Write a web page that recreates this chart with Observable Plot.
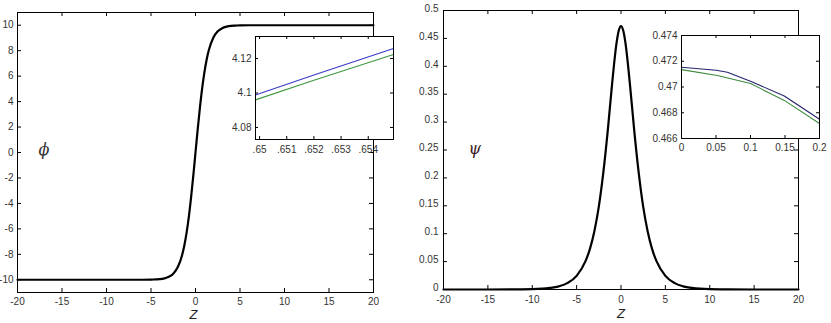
<!DOCTYPE html>
<html><head><meta charset="utf-8">
<script src="https://cdn.jsdelivr.net/npm/d3@7"></script>
<script src="https://cdn.jsdelivr.net/npm/@observablehq/plot@0.6"></script>
<style>
body{margin:0;background:#fff;}
#wrap{position:relative;width:831px;height:323px;overflow:hidden;background:#fff;}
#wrap svg{position:absolute;background:transparent;overflow:visible;}
</style></head><body><div id="wrap"></div>
<script>
// ---- Left panel: phi(z) ----
const zPhi = [-20,-8,-6,-5,-4.5,-4,-3.5,-3,-2.5,-2,-1.5,-1.25,-1,-0.75,-0.5,-0.25,0,0.25,0.5,0.75,1,1.25,1.5,2,2.5,3,3.5,4,4.5,5,6,8,20];
const phiValues = [-10,-10,-10,-9.99,-9.97,-9.95,-9.89,-9.77,-9.52,-9.02,-8.05,-7.29,-6.30,-5.05,-3.54,-1.83,0,1.83,3.54,5.05,6.30,7.29,8.05,9.02,9.52,9.77,9.89,9.95,9.97,9.99,10,10,10];
const phiXTicks = [-20,-15,-10,-5,0,5,10,15,20];
const phiYTicks = [-10,-8,-6,-4,-2,0,2,4,6,8,10];
// inset of left panel
const phiInsetZ = [0.64985, 0.652, 0.65493];
const phiInsetBlue = [4.0988, 4.1104, 4.1258];
const phiInsetGreen = [4.0960, 4.1074, 4.1223];
const phiInsetXTicks = [0.65, 0.651, 0.652, 0.653, 0.654];
const phiInsetYTicks = [4.08, 4.1, 4.12];

// ---- Right panel: psi(z) ----
const zPsi = [-20,-15,-12,-10,-8,-7,-6,-5,-4,-3.5,-3,-2.5,-2,-1.5,-1,-0.5,-0.25,0,0.25,0.5,1,1.5,2,2.5,3,3.5,4,5,6,7,8,10,12,15,20];
const psiValues = [0,0,0.0002,0.0006,0.0028,0.0057,0.0118,0.0245,0.0508,0.0728,0.1044,0.1484,0.2085,0.2835,0.369,0.442,0.464,0.472,0.464,0.442,0.369,0.2835,0.2085,0.1484,0.1044,0.0728,0.0508,0.0245,0.0118,0.0057,0.0028,0.0006,0.0002,0,0];
const psiXTicks = [-20,-15,-10,-5,0,5,10,15,20];
const psiYTicks = [0,0.05,0.1,0.15,0.2,0.25,0.3,0.35,0.4,0.45,0.5];
// inset of right panel
const psiInsetZBlue = [0, 0.05, 0.0665, 0.1, 0.149, 0.2];
const psiInsetBlue = [0.47153, 0.4713, 0.47115, 0.47045, 0.4693, 0.4675];
const psiInsetZGreen = [0, 0.052, 0.1, 0.149, 0.2];
const psiInsetGreen = [0.47135, 0.47089, 0.47027, 0.46896, 0.46716];
const psiInsetXTicks = [0, 0.05, 0.1, 0.15, 0.2];
const psiInsetYTicks = [0.466, 0.468, 0.47, 0.472, 0.474];

const FONT = "'Liberation Sans Narrow','Liberation Sans',Arial,sans-serif";
const wrap = document.getElementById("wrap");

function rows(xs, ys) { return xs.map((x, i) => ({x, y: ys[i]})); }

function panel(o) {
  const fw = o.width - o.ml - o.mr, fh = o.height - o.mt - o.mb;
  const tl = o.tickLen;
  const marks = [];
  if (o.fillWhite) marks.push(Plot.frame({fill: "white", stroke: null}));
  for (const s of o.series) {
    marks.push(Plot.line(s.data, {x: "x", y: "y", stroke: s.stroke, strokeWidth: s.width, curve: s.curve || "linear"}));
  }
  marks.push(
    Plot.ruleX(o.xTicks, {x: d => d, insetTop: fh - tl, stroke: "#000"}),
    Plot.ruleX(o.xTicks, {x: d => d, insetBottom: fh - tl, stroke: "#000"}),
    Plot.ruleY(o.yTicks, {y: d => d, insetRight: fw - tl, stroke: "#000"}),
    Plot.ruleY(o.yTicks, {y: d => d, insetLeft: fw - tl, stroke: "#000"}),
    Plot.frame({stroke: "#000", strokeWidth: 1}),
    Plot.axisX({ticks: o.xTicks, tickSize: 0, tickPadding: o.xPad, tickFormat: o.xFormat, label: null, fill: "#333", fontSize: 10}),
    Plot.axisY({ticks: o.yTicks, tickSize: 0, tickPadding: o.yPad, tickFormat: o.yFormat, label: null, fill: "#333", fontSize: 10, dy: o.yDy || 0})
  );
  if (o.extra) marks.push(...o.extra);
  const svg = Plot.plot({
    width: o.width, height: o.height,
    marginLeft: o.ml, marginRight: o.mr, marginTop: o.mt, marginBottom: o.mb,
    x: {domain: o.xDomain}, y: {domain: o.yDomain},
    style: {fontFamily: FONT, fontSize: "10px", background: "transparent", color: "#000"},
    marks
  });
  svg.style.left = o.left + "px";
  svg.style.top = o.top + "px";
  wrap.appendChild(svg);
}

const str = d => String(d);

// Left main
panel({
  left: 0, top: 0, width: 420, height: 323, ml: 17, mr: 47, mt: 12, mb: 31,
  xDomain: [-20, 20], yDomain: [-11, 11], xTicks: phiXTicks, yTicks: phiYTicks,
  xPad: 5, yPad: 4, xFormat: str, yFormat: str, tickLen: 4,
  series: [{data: rows(zPhi, phiValues), stroke: "#000", width: 2.2, curve: "monotone-x"}],
  extra: [
    Plot.text(["ϕ"], {text: d => d, frameAnchor: "left", dx: 21, dy: -3, fontStyle: "italic", fontFamily: "'DejaVu Serif',serif", fontSize: 16, fill: "#333"}),
    Plot.text(["Z"], {text: d => d, frameAnchor: "bottom", dx: -2, dy: 26, fontStyle: "italic", fontFamily: "'Liberation Sans',Arial,sans-serif", fontSize: 13, fill: "#222"})
  ]
});

// Left inset
panel({
  left: 221, top: 32, width: 180, height: 123, ml: 34, mr: 8, mt: 4, mb: 16,
  xDomain: [0.64985, 0.65493], yDomain: [4.073, 4.1328], xTicks: phiInsetXTicks, yTicks: phiInsetYTicks,
  xPad: 6, yPad: 4, xFormat: d => String(d).replace(/^0/, ""), yFormat: str, tickLen: 3, fillWhite: true,
  series: [
    {data: rows(phiInsetZ, phiInsetBlue), stroke: "#3a3ac8", width: 1.1},
    {data: rows(phiInsetZ, phiInsetGreen), stroke: "#3f973f", width: 1.1}
  ]
});

// Right main
panel({
  left: 420, top: 0, width: 411, height: 323, ml: 23, mr: 33, mt: 10, mb: 34,
  xDomain: [-20, 20], yDomain: [0, 0.5], xTicks: psiXTicks, yTicks: psiYTicks,
  xPad: 6, yPad: 5, yDy: -2, xFormat: str, yFormat: str, tickLen: 4,
  series: [{data: rows(zPsi, psiValues), stroke: "#000", width: 2.2, curve: "monotone-x"}],
  extra: [
    Plot.text(["ψ"], {text: d => d, frameAnchor: "left", dx: 25, dy: -1, fontStyle: "italic", fontFamily: "'DejaVu Serif',serif", fontSize: 16, fill: "#3a1a1a"}),
    Plot.text(["Z"], {text: d => d, frameAnchor: "bottom", dx: 0, dy: 28, fontStyle: "italic", fontFamily: "'Liberation Sans',Arial,sans-serif", fontSize: 13, fill: "#222"})
  ]
});

// Right inset
panel({
  left: 645, top: 31, width: 186, height: 123, ml: 36, mr: 12, mt: 4, mb: 16,
  xDomain: [0, 0.2], yDomain: [0.466, 0.474], xTicks: psiInsetXTicks, yTicks: psiInsetYTicks,
  xPad: 5, yPad: 4, xFormat: str, yFormat: str, tickLen: 3, fillWhite: true,
  series: [
    {data: rows(psiInsetZBlue, psiInsetBlue), stroke: "#23236e", width: 1.1},
    {data: rows(psiInsetZGreen, psiInsetGreen), stroke: "#3d8a3d", width: 1.1}
  ]
});
</script>
</body></html>
